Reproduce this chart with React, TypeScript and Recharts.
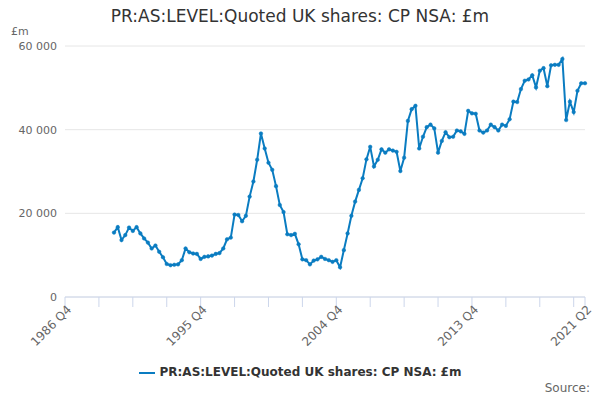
import { LineChart, Line, XAxis, YAxis, CartesianGrid } from "recharts";

const firstYear = 1986;
const firstQuarter = 4;
const startIndex = 13; // first quarter with data (1990 Q1)

const values = [
  15.4, 16.7, 13.6, 14.8, 16.6, 15.8, 16.7, 15.2, 14.0, 13.0, 11.6, 12.3, 10.8,
  9.5, 7.9, 7.6, 7.7, 7.8, 8.8, 11.6, 10.7, 10.4, 10.3, 9.1, 9.6, 9.7, 9.9,
  10.3, 10.5, 11.6, 13.8, 14.2, 19.7, 19.6, 18.1, 19.4, 24.0, 27.6, 32.8, 39.1,
  35.5, 32.1, 30.4,
  26.5, 22.0, 20.3, 15.0, 14.8, 15.1, 12.6, 9.0, 8.8, 7.8, 8.7, 9.0, 9.6, 9.1,
  8.8, 8.4, 8.8, 7.1, 11.2, 15.2, 19.4, 22.8, 25.6, 28.4, 32.9, 35.9, 31.2,
  32.8, 35.3, 34.5, 35.3, 35.0, 34.7, 30.1, 33.3, 42.1, 44.9, 45.7, 35.5,
  38.3, 40.6, 41.2, 40.3, 34.5, 37.3, 39.4, 38.2, 38.3, 39.8, 39.6, 39.0, 44.5,
  43.9, 43.8, 39.8, 39.3, 39.8, 41.2, 40.6, 39.8, 41.2, 40.9, 42.5, 46.7, 46.6,
  49.7, 51.7, 52.0, 53.0, 50.1, 54.1, 54.7, 50.4, 55.4, 55.5, 55.5, 56.9, 42.3,
  46.7, 44.2, 49.3, 51.1, 51.1,
];

const totalQuarters = startIndex + values.length; // 1986 Q4 .. 2021 Q2

const quarterLabel = (i: number) => {
  const q0 = firstQuarter - 1 + i;
  return `${firstYear + Math.floor(q0 / 4)} Q${(q0 % 4) + 1}`;
};

const data = Array.from({ length: totalQuarters }, (_, i) => ({
  period: quarterLabel(i),
  value: i >= startIndex ? values[i - startIndex] * 1000 : null,
}));

const tickMarks = [
  ...data.filter((_, i) => i % 9 === 0).map((d) => d.period),
  data[data.length - 1].period,
];
const shownLabels = ["1986 Q4", "1995 Q4", "2004 Q4", "2013 Q4", "2021 Q2"];

const fmt = (v: number) => String(v).replace(/\B(?=(\d{3})+(?!\d))/g, " ");

const XTick = (props: any) => {
  const { x, y, payload } = props;
  if (!shownLabels.includes(payload.value)) return null;
  return (
    <g transform={`translate(${x},${y})`}>
      <text
        x={4}
        y={6}
        textAnchor="end"
        transform="rotate(-45)"
        fill="#666"
        fontSize={12}
        fontFamily="DejaVu Sans"
      >
        {payload.value}
      </text>
    </g>
  );
};

export default function App() {
  return (
    <div
      style={{
        position: "absolute",
        left: 0,
        top: 0,
        width: 600,
        height: 400,
        fontFamily: "DejaVu Sans",
        background: "#fff",
      }}
    >
      <div
        style={{
          position: "absolute",
          top: 6,
          width: 600,
          textAlign: "center",
          fontSize: 17,
          color: "#333",
        }}
      >
        PR:AS:LEVEL:Quoted UK shares: CP NSA: £m
      </div>
      <div style={{ position: "absolute", left: 11, top: 25, fontSize: 11, color: "#666" }}>
        £m
      </div>
      <LineChart
        width={600}
        height={400}
        data={data}
        margin={{ top: 46, right: 15, bottom: 0, left: 0 }}
      >
        <CartesianGrid vertical={false} stroke="#e6e6e6" />
        <XAxis
          dataKey="period"
          ticks={tickMarks}
          interval={0}
          height={103}
          tick={<XTick />}
          tickSize={10}
          stroke="#ccd6eb"
          tickLine={{ stroke: "#ccd6eb" }}
        />
        <YAxis
          width={65}
          domain={[0, 60000]}
          ticks={[0, 20000, 40000, 60000]}
          tickFormatter={fmt}
          axisLine={false}
          tickLine={false}
          tick={{ fill: "#666", fontSize: 11, fontFamily: "DejaVu Sans" }}
        />
        <Line
          type="linear"
          dataKey="value"
          stroke="#0a7cc1"
          strokeWidth={2}
          dot={{ r: 1.8, fill: "#0a7cc1", stroke: "#0a7cc1", strokeWidth: 0.5 }}
          isAnimationActive={false}
          connectNulls={false}
        />
      </LineChart>
      <div
        style={{
          position: "absolute",
          top: 365,
          width: 600,
          textAlign: "center",
          fontSize: 12,
          fontWeight: "bold",
          color: "#333",
        }}
      >
        <span
          style={{
            display: "inline-block",
            width: 16,
            height: 2,
            background: "#0a7cc1",
            verticalAlign: "middle",
            marginRight: 5,
            position: "relative",
          }}
        />
        PR:AS:LEVEL:Quoted UK shares: CP NSA: £m
      </div>
      <div
        style={{ position: "absolute", right: 10, top: 381, fontSize: 12, color: "#666" }}
      >
        Source:
      </div>
    </div>
  );
}
